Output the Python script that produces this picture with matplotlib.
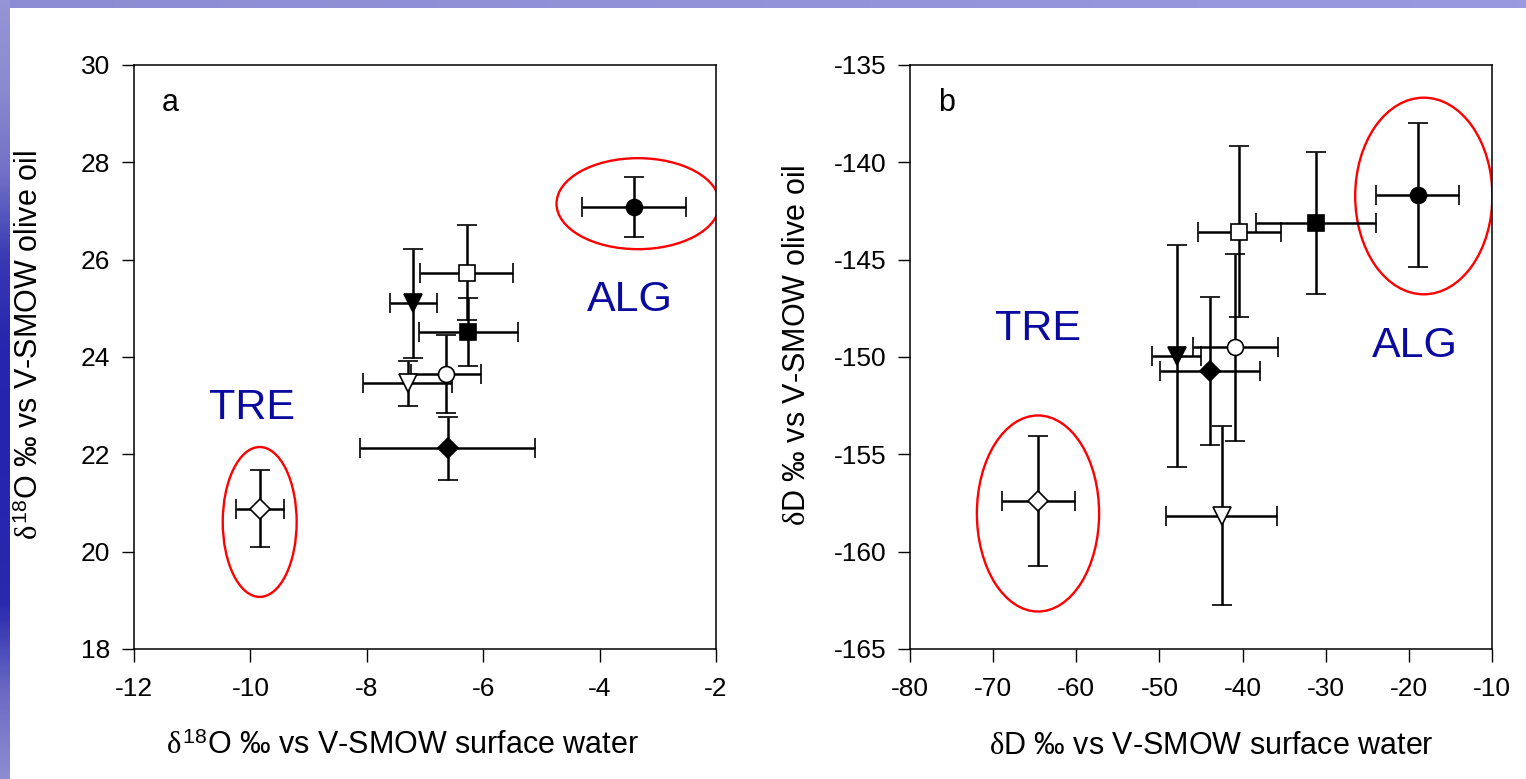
import numpy as np
import matplotlib
matplotlib.use("Agg")
import matplotlib.pyplot as plt
from matplotlib.patches import Ellipse
from matplotlib.colors import LinearSegmentedColormap

plt.rcParams['font.family'] = ['Liberation Sans', 'DejaVu Sans']
plt.rcParams['mathtext.fontset'] = 'custom'
plt.rcParams['mathtext.rm'] = 'Liberation Serif'
plt.rcParams['mathtext.it'] = 'Liberation Serif'
plt.rcParams['mathtext.sf'] = 'Liberation Sans'
plt.rcParams['axes.unicode_minus'] = False

# series order: filled circle, open circle, filled tri, open tri,
# filled square, open square, filled diamond, open diamond
a_x = [-3.41, -6.64, -7.20, -7.30, -6.26, -6.28, -6.61, -9.84]
a_y = [27.08, 23.65, 25.10, 23.46, 24.52, 25.73, 22.12, 20.88]
a_xerr = [0.89, 0.60, 0.40, 0.77, 0.85, 0.80, 1.50, 0.41]
a_yerr = [0.62, 0.80, 1.12, 0.46, 0.70, 0.98, 0.65, 0.79]

b_x = [-18.95, -40.89, -47.91, -42.5, -31.14, -40.37, -43.9, -64.56]
b_y = [-141.69, -149.51, -149.93, -158.16, -143.14, -143.57, -150.70, -157.41]
b_xerr = [5.0, 5.1, 2.95, 6.65, 7.2, 5.0, 6.0, 4.4]
b_yerr = [3.7, 4.8, 5.7, 4.6, 3.65, 4.4, 3.8, 3.33]

# groups circled in red: (label, x, y, width, height)
a_groups = [("TRE", -9.84, 20.61, 1.27, 3.08), ("ALG", -3.34, 27.15, 2.8, 1.87)]
b_groups = [("TRE", -64.6, -158.04, 14.7, 10.07), ("ALG", -18.2, -141.73, 16.5, 10.1)]
a_text_pos = [(-9.97, 22.95), (-3.48, 25.17)]
b_text_pos = [(-64.6, -148.57), (-19.23, -149.44)]

markers = ['o', 'o', 'v', 'v', 's', 's', 'D', 'D']
filled = [True, False, True, False, True, False, True, False]
msizes = [11.5, 11.5, 12.5, 12.5, 11, 11, 10, 10]

fig = plt.figure(figsize=(15.26, 7.79), dpi=100)

# slide decoration: top band and left band
band = fig.add_axes([0, 1 - 8 / 779, 1, 8 / 779])
band.imshow(np.linspace(0, 1, 200)[None, :], aspect='auto',
            cmap=LinearSegmentedColormap.from_list('t', ['#8c8cd4', '#9a9ae0']))
band.axis('off')
side = fig.add_axes([0, 0, 10 / 1526, 1])
side_cols = ['#9494d6', '#8a8ad0', '#7070c6', '#3838b4', '#2626ae', '#2424ad',
             '#2626ae', '#2a2ab0', '#6a6ac4', '#8c8cd2']
side.imshow(np.linspace(0, 1, 300)[:, None], aspect='auto',
            cmap=LinearSegmentedColormap.from_list('s', side_cols))
side.axis('off')


def panel(rect, xs, ys, xe, ye, groups, tpos, xlim, ylim, xticks, yticks,
          xlabel, ylabel, letter, xlab_x, ylab_x):
    ax = fig.add_axes(rect)
    for i in range(len(xs)):
        ax.errorbar(xs[i], ys[i], xerr=xe[i], yerr=ye[i], fmt=markers[i],
                    ms=msizes[i], mfc='black' if filled[i] else 'white',
                    mec='black', mew=1.2, ecolor='black', elinewidth=1.8,
                    capsize=7.5, capthick=1.8, zorder=3)
    for (lab, cx, cy, w, h), (tx, ty) in zip(groups, tpos):
        ax.add_patch(Ellipse((cx, cy), w, h, fill=False, ec='red', lw=1.7, zorder=2))
        ax.text(tx, ty, lab, color='#0a0aa0', fontsize=31, ha='center', va='center')
    ax.set_xlim(xlim)
    ax.set_ylim(ylim)
    ax.set_xticks(xticks)
    ax.set_yticks(yticks)
    ax.tick_params(direction='out', length=9, width=1, labelsize=19, pad=8,
                   top=False, right=False)
    ax.tick_params(axis='x', pad=11)
    for s in ax.spines.values():
        s.set_linewidth(1.1)
    ax.set_xlabel(xlabel, fontsize=22)
    ax.set_ylabel(ylabel, fontsize=22)
    ax.xaxis.set_label_coords(xlab_x, -0.14)
    ax.yaxis.set_label_coords(ylab_x, 0.52)
    ax.text(0.062, 0.935, letter, transform=ax.transAxes, fontsize=22,
            ha='center', va='center')
    return ax


panel([0.0878, 0.1669, 0.3814, 0.7497], a_x, a_y, a_xerr, a_yerr, a_groups,
      a_text_pos, (-12, -2), (18, 30), np.arange(-12, -1, 2), np.arange(18, 31, 2),
      r'$\delta^{\mathsf{18}}$O ‰ vs V-SMOW surface water',
      r'$\delta^{\mathsf{18}}$O ‰ vs V-SMOW olive oil', 'a', 0.462, -0.153)
panel([0.5963, 0.1669, 0.3814, 0.7497], b_x, b_y, b_xerr, b_yerr, b_groups,
      b_text_pos, (-80, -10), (-165, -135), np.arange(-80, -9, 10),
      np.arange(-165, -134, 5),
      r'$\delta$D ‰ vs V-SMOW surface water',
      r'$\delta$D ‰ vs V-SMOW olive oil', 'b', 0.517, -0.168)

fig.savefig('out.png', dpi=100)
